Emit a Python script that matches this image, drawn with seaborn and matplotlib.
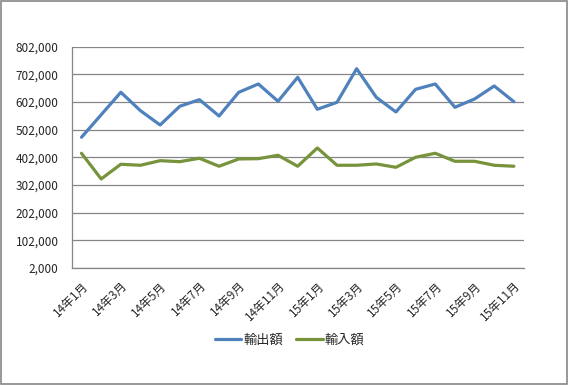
import numpy as np
import pandas as pd
import matplotlib
matplotlib.use('Agg')
import matplotlib.pyplot as plt
import seaborn as sns
from matplotlib.patches import Rectangle
from matplotlib.ticker import FixedLocator, FuncFormatter

# データ
months = ['14年1月', '14年2月', '14年3月', '14年4月', '14年5月', '14年6月',
          '14年7月', '14年8月', '14年9月', '14年10月', '14年11月', '14年12月',
          '15年1月', '15年2月', '15年3月', '15年4月', '15年5月', '15年6月',
          '15年7月', '15年8月', '15年9月', '15年10月', '15年11月']
exports = [474600, 556000, 637200, 570700, 519000, 586600, 610500, 551500,
           637200, 667200, 604700, 691400, 575800, 601000, 722500, 619000,
           566000, 648000, 667200, 583000, 613000, 660000, 603200]
imports = [416700, 323900, 377000, 373400, 390000, 386400, 398700, 369800,
           396100, 397200, 409500, 369800, 435900, 373400, 373400, 378100,
           366000, 402300, 416700, 387800, 387800, 373400, 369800]
series_names = ['輸出額', '輸入額']
y_ticks = [2000, 102000, 202000, 302000, 402000, 502000, 602000, 702000, 802000]

df = pd.DataFrame({'月': months, 'idx': range(len(months)),
                   series_names[0]: exports, series_names[1]: imports})
long_df = df.melt(id_vars=['月', 'idx'], value_vars=series_names,
                  var_name='系列', value_name='金額')

sns.set_style('white')
plt.rcParams['font.family'] = ['Noto Sans CJK JP', 'DejaVu Sans']

fig = plt.figure(figsize=(5.68, 3.85), dpi=100)
ax = fig.add_axes([0.1262, 0.3039, 0.7958, 0.5748])

sns.lineplot(data=long_df, x='idx', y='金額', hue='系列',
             palette=['#4F81BD', '#77933C'], linewidth=2.3, ax=ax)

# 軸
ax.set_xlim(-0.5, len(months) - 0.5)
ax.set_ylim(y_ticks[0], y_ticks[-1])
ax.set_yticks(y_ticks)
ax.yaxis.set_major_formatter(FuncFormatter(lambda v, p: f'{int(v):,}'))
ax.grid(axis='y', color='#868686', linewidth=0.9)
ax.set_axisbelow(True)

ax.set_xticks(range(0, len(months), 2))
ax.set_xticklabels(months[::2], rotation=45, ha='right', va='top',
                   rotation_mode='anchor', fontsize=8.5)
ax.xaxis.set_minor_locator(FixedLocator(np.arange(-0.5, len(months) - 1, 2)))
ax.tick_params(axis='x', which='major', length=0, pad=8)
ax.tick_params(axis='x', which='minor', length=4, color='#868686', width=0.9, direction='out')
ax.tick_params(axis='y', length=3.5, color='#868686', width=0.9, direction='out',
               pad=6, labelsize=8.5)
ax.set_xlabel('')
ax.set_ylabel('')

for s in ['top', 'right']:
    ax.spines[s].set_visible(False)
for s in ['left', 'bottom']:
    ax.spines[s].set_color('#868686')
    ax.spines[s].set_linewidth(0.9)

# 凡例
handles, labels = ax.get_legend_handles_labels()
ax.legend(handles, labels, loc='center', bbox_to_anchor=(0.51, 0.117),
          bbox_transform=fig.transFigure, ncol=2, frameon=False,
          fontsize=9.5, handlelength=2.0, handletextpad=0.15, columnspacing=1.0)

# 外枠
fig.patches.append(Rectangle((0.002, 0.003), 0.996, 0.994, transform=fig.transFigure,
                             fill=False, edgecolor='#868686', linewidth=1.2))

fig.savefig('out.png', dpi=100)
